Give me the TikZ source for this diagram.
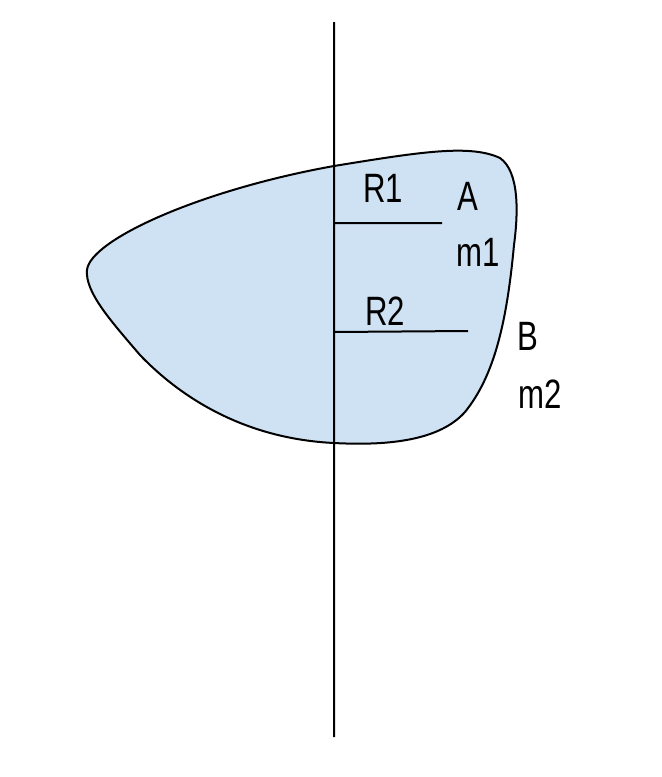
\documentclass[tikz,border=0pt]{standalone}
\usepackage{fontspec}
\newfontfamily\lblfont[FakeStretch=0.76]{Liberation Sans}
\usepackage{tikz}
\usetikzlibrary{positioning}
\definecolor{bodyblue}{HTML}{CFE2F3}
\tikzset{
x=0.5pt, y=-0.5pt, % one unit is one pixel of the sketch, y runs down
body/.style={draw=black, line width=1pt, fill=bodyblue}, % the rigid body
axisline/.style={draw=black, line width=1pt}, % rotation axis and radii
lbl/.style={font=\lblfont\fontsize{20.5}{21}\selectfont, inner sep=0pt}, % labels
}
\begin{document}
\begin{tikzpicture}
                \useasboundingbox (0,0) rectangle (661,777);
                % the body
                \path[body] (87,270) .. controls (90,240) and (200,190) .. (334,166)
                    .. controls (420,152) and (470,144) .. (500,158)
                    .. controls (520,172) and (518,215) .. (514,245)
                    .. controls (507,320) and (495,375) .. (465,412)
                    .. controls (440,440) and (390,446) .. (334,443)
                    .. controls (250,439) and (185,402) .. (140,355)
                    .. controls (110,320) and (85,292) .. (87,270) -- cycle;

                \coordinate (ax_top) at (334,22);
                \coordinate (ax_bot) at (334,737);
                \coordinate (r1_in) at (334,223);
                \coordinate (r1_out) at (442,223);
                \coordinate (r2_in) at (334,332);
                \coordinate (r2_out) at (468,331);

                \node[lbl] (R1) at (383,188) {R1};
                \node[lbl] (R2) at (385,311) {R2};
                \node[lbl] (A) at (468,196) {A};
                \node[lbl] (m1) at (478,252) {m1};
                \node[lbl] (B) at (528,336) {B};
                \node[lbl] (m2) at (540,394) {m2};

                \draw[axisline]
                    (ax_top) -- (ax_bot)
                    (r1_in) -- (r1_out)
                    (r2_in) -- (r2_out)
                    ;
                \end{tikzpicture}
\end{document}
